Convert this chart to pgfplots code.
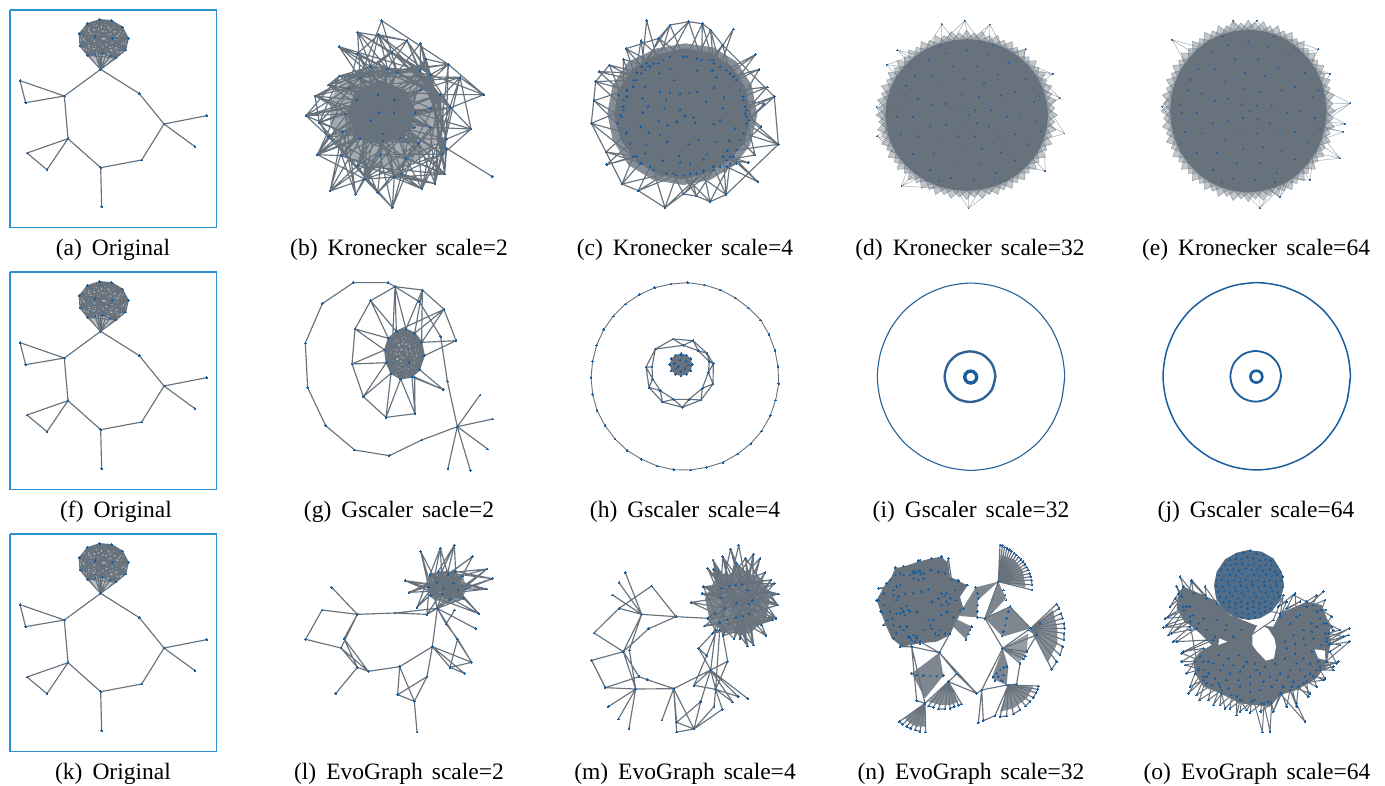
\documentclass[border=0pt]{standalone}
\usepackage{fontspec}
\setmainfont{Liberation Serif}
\usepackage{pgfplots}
\pgfplotsset{compat=1.18}
\definecolor{edgec}{HTML}{67727C}
\definecolor{nodec}{HTML}{1B5E9E}
\definecolor{framec}{HTML}{2B90D4}
\pgfplotsset{
 pan/.style 2 args={at={(#1pt,-#2pt)},anchor=north west,x=0.33333pt,y=0.33333pt,xmin=0,xmax=780,ymin=0,ymax=780,y dir=reverse,hide axis,clip=false},
 panc/.style n args={4}{at={(#1pt,-#2pt)},anchor=origin,x=#3pt,y=#4pt,xmin=-320,xmax=320,ymin=-320,ymax=320,y dir=reverse,hide axis,clip=false},
 ed/.style={color=edgec,line width=1.15pt,line join=round,mark=*,mark size=.7pt,mark options={fill=nodec,draw=nodec,line width=0pt}},
 dots/.style={only marks,color=nodec,mark=*,mark size=.75pt,mark options={fill=nodec,draw=nodec,line width=0pt}},
 tiny/.style={only marks,color=nodec,mark=*,mark size=.42pt,mark options={fill=nodec,draw=nodec,line width=0pt,opacity=.75}},
 blob/.style={fill=edgec,draw=none},
 semi/.style={fill=edgec,draw=none,fill opacity=#1},
 fr/.style={color=edgec,line width=.5pt,line join=round,opacity=.6,fill=edgec,fill opacity=.4},
}
\newcommand{\OrigG}{
\addplot[color=framec,line width=1.6pt] coordinates {(30,30)(650,30)(650,683)(30,683)(30,30)};
\addplot[semi=.45] coordinates {(299,59)(335,62)(367,81)(385,115)(377,150)(348,174)(302,200)(263,166)(240,138)(238,101)(262,71)};
\addplot[ed] coordinates {(302,208)(193,288)(60,242)(77,308)(193,288)(204,416)(81,459)(141,509)(204,416)(302,503)(305,620)(302,503)(425,480)(492,372)(620,347)(492,372)(585,440)(492,372)(418,281)(302,208)
(377,150)(302,208)(348,174)(302,208)(330,168)(302,208)(307,160)(302,208)(285,162)(302,208)(263,166)(302,208)(240,138)(302,208)(337,115)(302,208)(285,110)(302,208)(299,59)
(335,62)(367,81)(385,115)(377,150)(348,174)(307,160)(263,166)(240,138)(238,101)(262,71)(285,110)(337,115)(299,59)
(367,81)(377,150)(307,160)(240,138)(262,71)(337,115)(335,62)(385,115)(348,174)(263,166)(238,101)(285,110)(299,59)
(385,115)(307,160)(238,101)(337,115)(367,81)(348,174)(240,138)(285,110)(335,62)(377,150)(263,166)(262,71)(299,59)
(377,150)(240,138)(337,115)(385,115)(263,166)(285,110)(367,81)(307,160)(262,71)(335,62)(348,174)(238,101)(299,59)
(348,174)(262,71)(367,81)(263,166)(337,115)(377,150)(238,101)(335,62)(307,160)(285,110)(385,115)(240,138)(299,59)
(307,160)(337,115)(348,174)(285,110)(377,150)(262,71)(385,115)(238,101)(367,81)(240,138)(335,62)(263,166)(299,59)};
}
\newcommand{\FringeA}{
\addplot[fr] coordinates {(262,0)(234,20)(258,46)(227,61)(246,90)(213,99)(227,131)(192,135)(201,168)(166,166)(168,201)(135,192)(131,227)(99,213)(90,246)(61,227)(46,258)(20,234)(0,262)
(-20,234)(-46,258)(-61,227)(-90,246)(-99,213)(-131,227)(-135,192)(-168,201)(-166,166)(-201,168)(-192,135)(-227,131)(-213,99)(-246,90)(-227,61)(-258,46)(-234,20)(-262,0)
(-234,-20)(-258,-46)(-227,-61)(-246,-90)(-213,-99)(-227,-131)(-192,-135)(-201,-168)(-166,-166)(-168,-201)(-135,-192)(-131,-227)(-99,-213)(-90,-246)(-61,-227)(-46,-258)(-20,-234)(0,-262)
(20,-234)(46,-258)(61,-227)(90,-246)(99,-213)(131,-227)(135,-192)(168,-201)(166,-166)(201,-168)(192,-135)(227,-131)(213,-99)(246,-90)(227,-61)(258,-46)(234,-20)(262,0)};
\addplot[fr] coordinates {(235,0)(254,22)(231,41)(246,66)(221,80)(231,108)(204,118)(209,146)(180,151)(180,180)(151,180)(146,209)(118,204)(108,231)(80,221)(66,246)(41,231)(22,254)(0,235)
(-22,254)(-41,231)(-66,246)(-80,221)(-108,231)(-118,204)(-146,209)(-151,180)(-180,180)(-180,151)(-209,146)(-204,118)(-231,108)(-221,80)(-246,66)(-231,41)(-254,22)(-235,0)
(-254,-22)(-231,-41)(-246,-66)(-221,-80)(-231,-108)(-204,-118)(-209,-146)(-180,-151)(-180,-180)(-151,-180)(-146,-209)(-118,-204)(-108,-231)(-80,-221)(-66,-246)(-41,-231)(-22,-254)(0,-235)
(22,-254)(41,-231)(66,-246)(80,-221)(108,-231)(118,-204)(146,-209)(151,-180)(180,-180)(180,-151)(209,-146)(204,-118)(231,-108)(221,-80)(246,-66)(231,-41)(254,-22)(235,0)};
\addplot[blob] coordinates {(235,0)(231,41)(221,80)(204,118)(180,151)(151,180)(118,204)(80,221)(41,231)(0,235)(-41,231)(-80,221)(-118,204)(-151,180)(-180,151)(-204,118)(-221,80)(-231,41)(-235,0)(-231,-41)(-221,-80)(-204,-118)(-180,-151)(-151,-180)(-118,-204)(-80,-221)(-41,-231)(0,-235)(41,-231)(80,-221)(118,-204)(151,-180)(180,-151)(204,-118)(221,-80)(231,-41)};
\addplot[tiny] coordinates {(-180,-60)(-150,-120)(-110,-170)(-60,-190)(0,-200)(60,-185)(120,-160)(170,-110)(195,-40)(200,20)(180,90)(140,140)(85,180)(20,200)(-45,195)(-105,170)(-155,120)(-190,60)(-200,5)
(-140,-50)(-100,-120)(-40,-150)(30,-150)(90,-125)(140,-70)(155,0)(140,60)(100,115)(35,150)(-35,150)(-95,120)(-140,65)(-155,5)
(-100,-30)(-70,-85)(-10,-110)(50,-100)(100,-60)(115,5)(95,65)(45,105)(-15,110)(-70,85)(-105,35)
(-60,-35)(-15,-65)(35,-55)(70,-15)(65,35)(25,65)(-25,65)(-60,30)(-20,-20)(25,-15)(30,25)(-15,20)(5,0)(-205,-20)(-175,-90)(75,-215)(-75,-215)(210,-60)(215,50)(-80,205)(80,205)};
}
\newcommand{\RingO}[1]{\addplot[#1] coordinates {(281,0)(271,73)(243,141)(199,199)(141,243)(73,271)(0,281)(-73,271)(-141,243)(-199,199)(-243,141)(-271,73)(-281,0)(-271,-73)(-243,-141)(-199,-199)(-141,-243)(-73,-271)(0,-281)(73,-271)(141,-243)(199,-199)(243,-141)(271,-73)(281,0)(271,73)};}
\newcommand{\RingM}[1]{\addplot[#1] coordinates {(73,0)(63,38)(35,66)(-3,76)(-41,66)(-69,38)(-79,0)(-69,-38)(-41,-66)(-3,-76)(35,-66)(63,-38)(73,0)(63,38)};}
\newcommand{\RingI}[1]{\addplot[#1] coordinates {(17,1)(14.6,10)(8,16.6)(-1,19)(-10,16.6)(-16.6,10)(-19,1)(-16.6,-8)(-10,-14.6)(-1,-17)(8,-14.6)(14.6,-8)(17,1)(14.6,10)};}
\newcommand{\capt}[3]{\node[anchor=base] at (#1pt,-#2pt) {#3};}
\begin{document}
\begin{tikzpicture}[every node/.style={font=\fontsize{23.5}{26}\selectfont,inner sep=0pt}]
\path[use as bounding box] (0,0) rectangle (1385pt,-785pt);

% (a) (f) (k)
\begin{axis}[pan={0}{0}]\OrigG\end{axis}
\begin{axis}[pan={0}{262}]\OrigG\end{axis}
\begin{axis}[pan={0}{524}]\OrigG\end{axis}

% (b)
\begin{axis}[pan={280}{0}]
\addplot[semi=.6] coordinates {(190,235)(270,195)(350,205)(440,225)(485,300)(495,380)(450,460)(360,505)(270,505)(180,450)(150,370)(150,300)};
\addplot[blob] coordinates {(225,275)(300,240)(375,270)(410,340)(375,410)(300,435)(230,410)(200,345)};
\addplot[ed] coordinates {(305,62)(240,234)(305,62)(352,216)(305,62)(505,193)(611,284)(480,284)(611,284)(512,323)(611,284)(452,224)(611,284)(540,232)(573,387)(405,338)(573,387)(500,417)(573,387)(512,323)(573,387)(451,382)(573,387)(488,463)(500,445)(637,530)(500,445)(494,522)(378,476)(494,522)(488,463)(494,522)(415,430)(465,551)(343,530)(465,551)(451,382)(465,551)(500,417)(426,567)(365,522)(426,567)(378,476)(426,567)(415,430)(337,623)(254,537)(337,623)(343,530)(337,623)(300,463)(337,623)(378,476)(293,578)(232,497)(293,578)(343,530)(293,578)(309,423)(227,583)(185,467)(227,583)(254,537)(227,583)(300,463)(150,573)(232,497)(150,573)(254,537)(112,464)(188,395)(112,464)(241,416)(112,464)(185,467)(112,464)(145,410)(78,347)(195,342)(78,347)(188,395)(78,347)(230,300)(78,347)(145,410)(118,368)(241,416)(118,368)(105,288)(272,361)(105,288)(230,300)(105,288)(205,264)(145,255)(294,284)(145,255)(205,264)(145,255)(178,228)(240,234)(178,228)(272,200)(177,140)(272,200)(177,140)(240,234)(177,140)(323,207)(233,97)(240,234)(233,97)(272,200)(233,97)(336,158)(233,97)(381,122)(296,104)(233,160)(296,104)(272,200)(296,104)(352,216)(296,104)(323,207)(233,160)(294,284)(233,160)(205,264)(336,158)(420,212)(336,158)(272,200)(381,122)(323,207)(381,122)(420,212)(381,122)(452,224)(422,130)(352,216)(422,130)(420,212)(422,130)(452,224)(438,177)(343,299)(438,177)(420,212)(438,177)(505,193)(452,224)(505,193)(422,270)(540,232)(422,270)(540,232)(452,325)(480,284)
(272,200)(451,382)(205,264)(415,430)(240,234)(405,338)(230,300)(403,383)(195,342)(422,270)(188,395)(452,325)(241,416)(352,216)(185,467)(343,299)(232,497)(294,284)(300,463)(323,207)(378,476)(272,200)(343,530)(240,234)(254,537)(420,212)(365,522)(205,264)(488,463)(230,300)(451,382)(195,342)(415,430)(188,395)(362,414)(294,284)(309,423)(452,224)(241,416)(422,270)(272,361)(512,323)(298,338)(480,284)(342,337)(145,410)(310,402)(105,288)(403,383)(178,228)(451,382)(145,255)(415,430)(233,160)(362,414)(177,140)(405,338)(112,464)(343,299)(78,347)(422,270)(118,368)(452,224)(145,410)(420,212)(185,467)(352,216)(232,497)(323,207)(254,537)(272,200)(343,530)(294,284)(365,522)(230,300)(494,522)(241,416)(500,417)(195,342)(512,323)(188,395)(480,284)(205,264)(540,232)(178,228)(505,193)(240,234)(452,325)(272,361)(405,338)(298,338)(451,382)(342,337)(403,383)(310,402)(415,430)(309,423)(378,476)(300,463)(488,463)
(205,264)(352,216)(240,234)(420,212)(272,200)(452,224)(323,207)(480,284)(352,216)(512,323)(420,212)(500,417)(452,224)(488,463)(480,284)(465,551)(512,323)(378,476)(500,417)(343,530)(488,463)(254,537)(494,522)(232,497)(465,551)(185,467)(426,567)(145,410)(337,623)(118,368)(293,578)(195,342)(227,583)(188,395)(150,573)(230,300)(112,464)(205,264)(78,347)(178,228)(118,368)(240,234)(105,288)(272,200)(145,255)(323,207)(178,228)(352,216)(177,140)(420,212)(233,97)(452,224)(296,104)(480,284)(336,158)(512,323)(381,122)(500,417)(422,130)(488,463)(438,177)(494,522)(505,193)(465,551)(540,232)(426,567)(480,284)(378,476)(451,382)(343,530)(415,430)(254,537)(362,414)(232,497)(310,402)(185,467)(272,361)(112,464)(241,416)(150,573)(188,395)(227,583)};
\end{axis}

% (c)
\begin{axis}[pan={570}{0}]
\addplot[semi=.8] coordinates {(345,130)(430,142)(500,185)(545,255)(562,345)(540,435)(495,495)(420,540)(340,555)(250,540)(175,495)(128,420)(112,340)(128,255)(175,185)(260,145)};
\addplot[blob] coordinates {(345,145)(425,158)(485,200)(525,260)(545,345)(525,425)(475,485)(405,522)(335,538)(260,522)(195,480)(150,415)(132,345)(145,270)(190,205)(265,162)};
\addplot[ed] coordinates {(230,62)(265,190)(230,62)(215,200)(300,75)(265,190)(300,75)(340,170)(266,115)(300,170)(266,115)(230,190)(356,65)(300,170)(356,65)(395,180)(397,71)(350,170)(397,71)(430,190)(422,90)(380,175)(422,90)(450,200)(490,87)(430,180)(458,135)(420,180)(458,135)(480,220)(556,164)(470,210)(556,164)(500,240)(567,208)(490,230)(567,208)(520,290)(592,261)(510,270)(592,261)(530,330)(613,290)(525,320)(613,290)(535,360)(582,312)(520,300)(582,312)(530,370)(625,433)(520,400)(625,433)(530,350)(625,433)(500,450)(573,380)(525,340)(555,465)(510,420)(555,465)(470,480)(535,488)(480,470)(563,545)(490,470)(563,545)(470,500)(500,490)(460,470)(468,584)(430,500)(468,584)(380,520)(468,584)(480,490)(420,605)(400,510)(420,605)(340,525)(379,588)(360,520)(379,588)(430,510)(340,582)(310,520)(340,582)(400,515)(285,623)(250,510)(285,623)(320,525)(205,572)(240,500)(205,572)(290,520)(156,552)(210,490)(156,552)(190,470)(110,494)(180,430)(110,494)(200,470)(108,456)(170,400)(108,456)(215,490)(64,370)(160,330)(64,370)(170,400)(72,302)(155,350)(72,302)(170,270)(77,245)(160,320)(77,245)(190,240)(87,215)(170,290)(87,215)(215,220)(118,195)(200,240)(118,195)(160,300)(160,178)(240,200)(160,178)(190,260)(213,122)(280,180)(213,122)(225,210)(168,146)(250,190)(168,146)(200,240)(168,146)(266,115)(300,75)(356,65)(397,71)(422,90)(458,135)
(613,290)(625,433)(468,584)(420,605)(379,588)(340,582)(285,623)(205,572)(156,552)(108,456)(64,370)(77,245)(118,195)};
\addplot[dots] coordinates {(270,275)(300,277)(330,280)(357,279)(381,275)(288,298)(234,320)(218,295)(283,325)(330,328)(370,352)(344,347)(266,363)(218,338)(150,345)(375,368)(320,365)(293,376)(212,380)(236,398)(170,397)(270,405)(292,425)(356,432)(385,420)(228,435)(226,460)(278,482)(327,467)(411,462)(330,488)(360,490)(400,478)(450,500)(313,240)(269,220)(300,207)(235,198)(383,211)(427,212)(440,232)(432,262)(462,292)(408,305)(458,325)(450,362)(430,372)(495,385)(437,426)(478,422)(472,452)(200,218)(225,260)(171,272)(145,285)(152,345)(143,370)};
\end{axis}

% (d)
\begin{axis}[panc={966.7}{115}{0.3467}{0.3233}]
\addplot[color=edgec,line width=.5pt,line join=round,opacity=.6] coordinates {(-110,-215)(-72,-281)(-30,-225)(-72,-281)(-72,-225)(-5,-292)(-40,-225)(-5,-292)(40,-225)(-5,-292)(5,-225)(67,-280)(30,-225)(67,-280)(100,-210)(67,-280)(65,-225)
(-170,-165)(-200,-201)(-140,-185)(-200,-201)(-165,-180)(-231,-155)(-180,-150)(-231,-155)(-200,-120)(170,-204)(130,-190)(170,-204)(160,-165)(248,-127)(190,-140)(248,-127)(215,-100)(248,-127)(205,-120)
(269,-52)(225,-75)(269,-52)(230,-30)(282,57)(230,30)(282,57)(225,75)(226,173)(170,160)(226,173)(190,135)(5,289)(-30,230)(5,289)(40,228)(5,289)(5,230)(-188,220)(-170,165)(-188,220)(-130,190)(-188,220)(-150,180)
(-258,65)(-220,40)(-258,65)(-215,90)(-260,-24)(-225,-60)(-260,-24)(-230,10)(-260,-24)(-225,-20)};
\FringeA
\addplot[tiny] coordinates {(-72,-281)(-5,-292)(67,-280)(-200,-201)(-231,-155)(170,-204)(248,-127)(269,-52)(282,57)(226,173)(5,289)(-188,220)(-258,65)(-260,-24)};
\end{axis}

% (e)
\begin{axis}[panc={1248.3}{111}{0.3333}{0.3467}]
\addplot[color=edgec,line width=.5pt,line join=round,opacity=.6] coordinates {(-228,-205)(-170,-170)(-228,-205)(-190,-140)(-228,-205)(-150,-185)(-258,-12)(-225,-50)(-258,-12)(-228,30)(-258,-12)(-230,-10)(306,-22)(230,-60)(306,-22)(232,10)(306,-22)(232,30)(290,37)(232,5)(290,37)(230,50)(285,60)(225,45)(285,60)(228,80)(275,136)(215,95)(275,136)(190,145)(275,136)(200,120)
(35,280)(-15,232)(35,280)(70,225)(35,280)(35,232)(-45,-260)(-75,-222)(-45,-260)(-15,-232)(25,-260)(-5,-232)(25,-260)(55,-228)(210,-178)(160,-170)(210,-178)(185,-130)(245,-107)(200,-110)(245,-107)(225,-70)(185,199)(125,195)(185,199)(160,165)(95,247)(60,225)(95,247)(110,205)};
\FringeA
\addplot[tiny] coordinates {(-228,-205)(-258,-12)(306,-22)(290,37)(285,60)(275,136)(35,280)(-45,-260)(25,-260)(210,-178)(245,-107)(185,199)(95,247)};
\end{axis}

% (g)
\begin{axis}[pan={280}{265}]
\addplot[semi=.5] coordinates {(373,192)(404,200)(425,225)(433,272)(419,314)(396,336)(362,342)(333,325)(316,285)(314,255)(325,220)(349,197)};
\addplot[ed] coordinates {(345,65)(324,53)(220,53)(127,116)(76,234)(83,368)(137,482)(224,555)(328,572)(425,525)(532,485)(600,390)(532,485)(638,462)(532,485)(623,552)(532,485)(571,616)(532,485)(504,610)(532,485)(502,348)(482,215)(418,110)(345,65)(427,75)(492,133)(528,227)(433,272)(528,227)(425,232)(492,133)(404,205)(427,75)(378,192)(345,65)(349,199)(272,107)(345,65)(272,107)(325,220)(225,192)(272,107)(225,192)(314,255)(216,297)(225,192)(216,297)(319,293)(250,395)(216,297)(250,395)(333,325)(318,457)(250,395)(318,457)(362,342)(405,446)(318,457)(405,446)(396,336)(405,446)(404,336)(490,374)(419,314)(490,374)(396,336)(405,446)(362,342)(318,457)(333,325)(345,65)(378,192)(427,75)(425,232)(492,133)
(349,199)(378,192)(404,205)(425,232)(433,272)(419,314)(396,336)(362,342)(333,325)(319,293)(314,255)(325,220)(387,292)(349,199)
(404,205)(433,272)(396,336)(333,325)(314,255)(387,292)(378,192)(425,232)(419,314)(362,342)(319,293)(325,220)(349,199)
(425,232)(396,336)(319,293)(387,292)(404,205)(419,314)(333,325)(325,220)(378,192)(433,272)(362,342)(314,255)(349,199)
(433,272)(333,325)(387,292)(425,232)(362,342)(325,220)(404,205)(396,336)(314,255)(378,192)(419,314)(319,293)(349,199)
(419,314)(314,255)(404,205)(362,342)(387,292)(433,272)(319,293)(378,192)(396,336)(325,220)(425,232)(333,325)(349,199)
(396,336)(387,292)(419,314)(325,220)(433,272)(314,255)(425,232)(319,293)(404,205)(333,325)(378,192)(362,342)(349,199)};
\end{axis}

% (h)
\begin{axis}[pan={570}{265}]
\addplot[ed,line width=.9pt] coordinates {(353,53)(404,60)(452,75)(497,99)(536,129)(572,165)(597,208)(615,257)(624,305)(626,356)(617,405)(601,452)(575,498)(543,535)(503,567)(459,592)(410,607)(361,615)(311,614)(262,603)(215,583)(171,556)(135,522)(105,482)(81,436)(68,388)(63,338)(68,288)(80,240)(101,194)(130,153)(166,117)(208,89)(254,68)(303,57)(353,53)};
\addplot[ed] coordinates {(309,222)(369,227)(411,265)(430,296)(429,357)(393,405)(337,427)(277,411)(237,367)(228,306)(256,252)(309,222)
(340,241)(385,257)(418,290)(415,322)(397,370)(357,403)(311,403)(271,377)(248,342)(246,306)(256,252)(340,241)
(369,227)(385,257)(411,265)(418,290)(430,296)(415,322)(429,357)(397,370)(393,405)(357,403)(337,427)(311,403)(277,411)(271,377)(237,367)(248,342)(228,306)(246,306)(256,252)};
\addplot[blob] coordinates {(367,299)(362,317)(350,328)(333,333)(316,328)(304,317)(299,299)(304,281)(316,270)(333,265)(350,270)(362,281)};
\addplot[dots] coordinates {(367,299)(362,317)(350,328)(333,333)(316,328)(304,317)(299,299)(304,281)(316,270)(333,265)(350,270)(362,281)(313,296)(330,285)(348,290)(325,305)(345,310)(333,320)(318,312)(355,300)(335,272)};
\end{axis}

% (i)
\begin{axis}[panc={971}{376.7}{0.33333}{0.33333}]
\RingO{color=nodec!85!edgec,line width=1.1pt,smooth}
\RingM{color=nodec!75!edgec,line width=2.4pt,smooth}
\RingI{color=nodec,line width=3.4pt,smooth}
\end{axis}
% (j)
\begin{axis}[panc={1256.7}{376.3}{0.33333}{0.33333}]
\RingO{color=nodec,line width=1.5pt,smooth}
\RingM{color=nodec,line width=1.8pt,smooth}
\RingI{color=nodec,line width=2.6pt,smooth}
\end{axis}

% (l)
\begin{axis}[pan={280}{530}]
\addplot[semi=.75] coordinates {(450,130)(500,122)(548,135)(560,175)(545,210)(500,222)(455,205)(442,170)};
\addplot[ed] coordinates {(472,235)(457,350)(441,440)(403,514)(411,606)(403,514)(353,494)(359,410)(403,514)(353,494)(441,440)(457,350)(359,410)(265,424)(232,412)(167,491)(232,412)(183,354)(77,328)(126,240)(232,253)(155,172)(232,253)(192,326)(232,412)(192,326)(265,424)(183,354)(232,253)(345,249)(441,253)(472,235)(345,249)(472,235)(457,350)(510,412)(533,327)(498,282)(472,235)(587,296)(472,235)(498,282)(524,240)(498,282)(533,327)(575,397)(457,350)(553,430)(510,412)(575,397)
(472,235)(422,64)(470,157)(422,64)(452,197)(481,54)(450,134)(481,54)(504,134)(481,54)(488,192)(523,45)(474,125)(523,45)(527,124)(523,45)(470,157)(577,80)(504,134)(577,80)(547,139)(577,80)(510,209)(621,117)(470,157)(621,117)(450,134)(621,117)(534,180)(637,146)(474,125)(637,146)(527,124)(637,146)(558,177)(620,177)(450,134)(620,177)(520,160)(620,177)(488,192)(596,251)(534,180)(596,251)(452,197)(596,251)(551,205)(472,235)(547,139)(472,235)(558,177)(472,235)(504,134)(472,235)(450,134)(411,232)(527,124)(411,232)(470,157)(387,187)(547,139)(387,187)(504,134)(387,187)(534,180)(375,152)(551,205)(375,152)(510,209)(375,152)(558,177)(441,253)(450,134)(441,253)(527,124)
(450,134)(558,177)(445,173)(547,139)(452,197)(527,124)(488,192)(474,125)(510,209)(450,134)(534,180)(470,157)(551,205)(474,125)(558,177)(504,134)(452,197)(520,160)(445,173)(490,175)(547,139)(470,157)(527,124)(445,173)(510,209)(504,134)(488,192)(558,177)(470,157)(520,160)(474,125)(534,180)(452,197)(551,205)(490,175)(504,134)(445,173)(534,180)(450,134)(551,205)(527,124)(510,209)(547,139)(488,192)(520,160)(450,134)};
\end{axis}

% (m)
\begin{axis}[pan={570}{530}]
\addplot[semi=.85] coordinates {(505,120)(565,140)(600,200)(590,265)(540,310)(470,310)(420,275)(405,205)(435,150)};
\addplot[ed] coordinates {(414,265)(318,260)(245,168)(147,235)(72,309)(160,365)(65,391)(106,473)(197,477)(115,530)(197,477)(145,567)(197,477)(177,595)(197,477)(311,476)(276,570)(311,476)(320,577)(372,597)(320,606)(311,476)(372,597)(392,515)(320,577)(392,515)(422,420)(311,476)(232,449)(207,440)(106,473)(207,440)(160,365)(197,477)(178,360)(215,253)(160,365)(236,296)(318,260)(215,253)(166,128)(215,253)(147,158)(215,253)(128,195)(215,253)(147,235)
(215,253)(318,260)(414,265)(437,300)(422,420)(372,466)(437,478)(422,420)(386,355)(428,310)(386,355)(410,377)(449,278)(410,377)(372,466)(437,478)(432,530)(372,597)(457,538)(437,478)(422,420)(488,516)(422,420)(533,506)(422,420)(505,500)(437,478)(488,516)(422,420)(473,394)(459,317)(473,394)(437,478)(449,300)
(506,45)(478,168)(506,45)(533,180)(482,57)(455,175)(482,57)(517,163)(458,80)(497,165)(458,80)(452,204)(429,90)(478,168)(429,90)(465,235)(413,115)(455,175)(413,115)(500,220)(430,118)(517,163)(430,118)(452,204)(500,100)(465,235)(500,100)(535,222)(527,85)(455,175)(527,85)(547,212)(550,73)(478,168)(550,73)(533,180)(570,85)(497,165)(570,85)(535,222)(585,128)(455,175)(585,128)(547,212)(603,150)(478,168)(603,150)(537,252)(613,160)(500,220)(613,160)(517,163)(625,192)(465,235)(625,192)(533,180)(623,225)(455,175)(623,225)(519,258)(618,265)(500,220)(618,265)(497,165)(608,270)(452,204)(608,270)(547,212)(588,317)(533,180)(588,317)(498,262)(575,285)(465,235)(575,285)(537,252)(551,345)(535,222)(551,345)(471,268)(533,348)(500,220)(533,348)(519,258)(510,325)(478,168)(510,325)(547,212)(492,327)(533,180)(492,327)(449,278)(459,317)(517,163)(459,317)(465,235)(428,310)(497,165)(428,310)(537,252)(404,288)(533,180)(404,288)(465,235)(363,217)(452,204)(363,217)(435,250)(400,170)(500,220)(400,170)(547,212)(396,190)(535,222)(396,190)(465,235)(412,265)(517,163)(412,265)(537,252)(400,170)(603,150)(400,170)(625,192)(396,190)(623,225)(404,288)(618,265)(428,310)(608,270)(459,317)(585,128)(492,327)(550,73)(510,325)(458,80)(533,348)(429,90)(551,345)(482,57)(588,317)(413,115)(575,285)(430,118)(618,265)(500,100)(623,225)(527,85)};
\end{axis}

% (n)
\begin{axis}[pan={860}{530}]
\addplot[blob] coordinates {(105,115)(130,110)(175,95)(215,85)(245,80)(265,100)(270,140)(320,165)(300,200)(310,235)(285,280)(270,315)(230,335)(180,340)(125,350)(95,325)(75,280)(60,240)(50,210)(75,165)(95,140)};
\addplot[semi=.85] coordinates {(305,240)(347,172)(415,155)(354,210)(352,262)(298,258)};
\addplot[semi=.85] coordinates {(375,265)(450,230)(512,295)(428,320)};
\addplot[semi=.85] coordinates {(415,155)(438,205)(385,262)(375,262)};
\addplot[semi=.85] coordinates {(238,368)(155,430)(195,505)(250,437)};
\addplot[semi=.85] coordinates {(428,355)(395,445)(440,465)(445,410)};
\addplot[semi=.85] coordinates {(285,265)(335,290)(318,328)(280,290)};
\addplot[semi=.8] coordinates {(415,155)(425,75)(462,88)(488,122)(497,172)};
\addplot[semi=.8] coordinates {(512,295)(578,240)(592,295)(592,340)(565,395)};
\addplot[semi=.8] coordinates {(445,465)(520,470)(500,505)(460,535)(420,545)};
\addplot[semi=.8] coordinates {(265,455)(205,515)(240,525)(270,525)(295,515)};
\addplot[semi=.8] coordinates {(195,520)(135,565)(150,580)(170,590)(195,590)};
\addplot[semi=.7] coordinates {(428,355)(505,310)(500,365)(480,395)};
\addplot[ed] coordinates {(415,155)(420,45)(427,47)(415,155)(434,51)(441,55)(415,155)(448,59)(455,64)(415,155)(462,69)(469,75)(415,155)(476,81)(483,88)(415,155)(489,95)(495,103)(415,155)(500,111)(505,120)(415,155)(509,130)(512,140)(415,155)(514,150)(516,165)(415,155)(516,180)
(415,155)(375,265)(428,355)(375,265)(352,262)(375,265)(450,230)
(512,295)(590,222)(597,235)(512,295)(603,250)(608,265)(512,295)(612,280)(613,295)(512,295)(612,310)(612,330)(512,295)(608,350)(600,375)(512,295)(590,395)(575,418)(512,295)(540,280)(530,315)(428,355)(505,300)(530,315)(500,365)(428,355)(497,378)(490,387)(428,355)(480,400)(470,462)(445,465)(535,468)(533,478)(445,465)(528,488)(520,503)(445,465)(510,515)(497,528)(445,465)(480,540)(460,552)(445,465)(440,558)(420,560)(445,465)(405,557)(370,572)(365,480)(355,578)(365,480)(428,355)(365,480)(440,465)(365,480)(350,490)(265,455)(290,432)(238,368)(290,432)(350,490)(238,368)(180,335)(238,368)(270,310)(238,368)(155,350)
(195,520)(265,455)(305,522)(295,526)(265,455)(283,530)(270,535)(265,455)(255,537)(235,537)(265,455)(220,532)(205,528)(265,455)(195,520)(118,575)(128,583)(195,520)(140,590)(152,596)(195,520)(165,600)(180,604)(195,520)(197,606)(195,520)(170,512)
(155,350)(120,350)(170,320)(100,325)(140,290)(70,285)(110,250)(62,245)(110,210)(50,212)(100,180)(55,175)(120,165)(80,160)(130,135)(105,112)(160,130)(130,108)(180,125)(175,92)(215,120)(215,85)(235,125)(245,78)(255,130)(265,85)(275,150)(295,150)(285,180)(322,165)(290,210)(310,235)};
\addplot[dots] coordinates {(347,172)(352,190)(356,205)(353,225)(352,245)(450,230)(445,245)(440,265)(435,285)(430,305)(426,318)(155,430)(170,435)(190,437)(210,438)(230,438)(250,437)(335,290)(330,300)(325,312)(318,328)(430,180)(435,195)(438,210)(400,440)(410,430)(420,420)(430,412)(440,410)(415,440)(430,435)(405,452)(425,452)(440,465)
(160,125)(175,120)(190,130)(190,145)(175,150)(160,145)(245,190)(260,190)(272,205)(265,222)(245,225)(235,205)(125,235)(140,228)(150,245)(135,255)(122,250)(90,245)(98,265)(100,285)(115,200)(135,190)(160,190)(185,185)(205,178)(220,270)(210,285)(225,310)(245,255)(262,245)(280,262)(240,300)(255,310)(145,320)(160,315)(170,325)(155,330)(120,290)(130,300)(110,170)(100,195)(80,160)(55,210)(65,245)(100,325)(125,345)(180,340)(180,90)(215,85)(245,80)(265,85)(295,155)(320,165)(300,240)(210,120)(120,130)(215,215)(170,245)(190,300)
(168,128)(182,132)(150,135)(252,198)(258,215)(130,245)(145,240)(205,270)(215,295)(235,315)(150,322)(165,335)(105,135)(90,150)(72,190)(70,225)(82,270)(110,310)};
\end{axis}

% (o)
\begin{axis}[pan={1140}{530}]
\addplot[blob] coordinates {(115,190)(130,170)(190,195)(230,215)(270,255)(345,285)(400,290)(420,250)(500,215)(545,225)(570,290)(572,340)(560,400)(530,445)(470,480)(420,495)(390,530)(300,520)(240,490)(190,470)(165,430)(160,390)(180,365)(215,345)(180,310)(130,270)(110,235)};
\addplot[fill=white,draw=none] coordinates {(355,280)(385,297)(403,325)(408,350)(402,385)(378,392)(352,365)(337,345)(337,315)};
\addplot[fill=white,draw=none] coordinates {(524,358)(555,362)(556,390)(535,385)};
\addplot[fill=white,draw=none] coordinates {(238,325)(262,335)(235,345)};
\addplot[ed,line width=1pt] coordinates {(120,140)(150,230)(110,170)(135,240)(155,150)(195,195)(105,205)(150,260)(75,265)(130,240)(85,315)(150,275)(70,292)(150,290)(100,335)(220,330)(125,370)(190,395)(135,405)(190,420)(145,490)(200,440)(178,510)(240,470)(220,525)(245,490)(255,535)(290,500)(290,555)(300,510)(320,540)(340,510)(367,606)(372,520)(390,605)(395,520)(400,545)(420,490)(495,575)(450,480)(470,530)(455,470)(510,490)(490,460)(550,450)(510,430)(580,410)(530,420)(595,395)(540,410)(628,335)(565,345)(625,315)(560,335)(628,295)(560,325)(580,300)(550,280)(575,290)(540,240)(558,240)(500,230)(550,185)(470,260)(465,190)(415,230)(440,215)(420,260)(430,195)(400,270)
(165,430)(150,470)(190,450)(170,495)(215,465)(205,510)(245,480)(240,525)(275,495)(270,535)(305,510)(300,545)(335,515)(330,548)(365,520)(362,545)(395,520)(400,545)(425,490)(440,530)(450,480)(470,520)(475,470)(505,500)(500,455)(530,470)(520,440)(555,445)(540,420)(580,420)(560,395)(590,400)
(570,365)(600,345)(570,340)(610,320)(565,310)(600,300)(560,280)(575,260)(545,240)(555,210)(520,225)(530,195)(500,215)(460,195)(440,235)(480,215)(420,250)
(115,190)(90,230)(125,200)(85,260)(130,230)(80,285)(150,260)(95,310)(170,295)(110,335)(200,330)(130,365)(190,355)(125,395)(165,395)(140,430)(175,420)
(130,170)(120,140)(160,190)(155,155)(200,205)(195,170)(230,220)};
\addplot[fill=edgec!70!nodec,draw=none] coordinates {(325,60)(365,65)(400,85)(425,125)(432,165)(422,210)(395,245)(360,265)(325,270)(285,262)(250,240)(228,205)(222,165)(230,125)(255,88)(290,68)};
\addplot[dots] coordinates {(290,72)(310,68)(330,62)(350,70)(370,75)(270,88)(288,85)(305,88)(322,82)(340,85)(358,90)(376,88)(392,92)(255,103)(272,105)(290,102)(308,100)(325,105)(342,102)(360,108)(378,104)(395,106)(410,108)(243,118)(262,120)(280,118)(298,122)(316,116)(335,120)(352,118)(370,122)(388,118)(405,124)(420,126)(235,135)(252,138)(270,133)(288,137)(306,132)(324,138)(342,134)(360,138)(378,133)(396,138)(412,134)(428,140)(228,152)(246,150)(264,155)(282,150)(300,154)(318,149)(336,155)(354,150)(372,155)(390,150)(408,155)(425,152)(230,168)(248,170)(266,165)(284,171)(302,166)(320,172)(338,166)(356,172)(374,167)(392,172)(410,167)(428,172)(235,185)(252,183)(270,188)(288,182)(306,188)(324,183)(342,189)(360,183)(378,188)(396,183)(414,188)(240,200)(258,203)(276,198)(294,204)(312,198)(330,204)(348,199)(366,204)(384,199)(402,204)(418,200)(250,217)(268,215)(286,220)(304,214)(322,220)(340,215)(358,220)(376,215)(394,220)(268,232)(286,235)(304,230)(322,236)(340,231)(358,236)(376,231)(390,235)(290,250)(308,247)(326,252)(344,247)(362,250)(375,245)(325,265)(345,262)(305,262)
(140,230)(160,255)(175,280)(200,300)(225,320)(255,300)(280,320)(305,300)(150,300)(190,265)(230,270)(260,285)(180,380)(205,395)(235,375)(265,385)(295,375)(320,395)(345,400)(375,410)(405,400)(435,385)(465,370)(495,345)(520,325)(435,335)(460,315)(490,300)(515,280)(540,265)(450,280)(480,255)(530,245)(175,415)(205,430)(240,420)(270,430)(300,425)(330,440)(360,430)(390,440)(420,430)(450,420)(480,420)(510,400)(535,395)(200,460)(235,460)(265,475)(300,470)(330,485)(360,480)(395,470)(430,470)(460,455)(495,440)(530,420)(545,345)(555,310)(300,510)(345,510)(385,515)
(220,400)(250,405)(280,405)(310,410)(350,420)(190,440)(225,445)(260,450)(295,450)(330,460)(370,455)(410,450)(445,440)(470,400)(490,385)(515,365)(440,355)(465,340)(490,325)(515,305)(530,290)};
\end{axis}

% captions
\capt{113}{255}{(a)\hspace{10pt}Original}
\capt{399}{255}{(b)\hspace{10pt}Kronecker\hspace{9pt}scale=2}
\capt{685}{255}{(c)\hspace{10pt}Kronecker\hspace{9pt}scale=4}
\capt{970}{255}{(d)\hspace{10pt}Kronecker\hspace{9pt}scale=32}
\capt{1256}{255}{(e)\hspace{10pt}Kronecker\hspace{9pt}scale=64}
\capt{116}{517}{(f)\hspace{10pt}Original}
\capt{399}{517}{(g)\hspace{10pt}Gscaler\hspace{9pt}sacle=2}
\capt{685}{517}{(h)\hspace{10pt}Gscaler\hspace{9pt}scale=4}
\capt{971}{517}{(i)\hspace{10pt}Gscaler\hspace{9pt}scale=32}
\capt{1256}{517}{(j)\hspace{10pt}Gscaler\hspace{9pt}scale=64}
\capt{113}{779.3}{(k)\hspace{10pt}Original}
\capt{399}{779.3}{(l)\hspace{10pt}EvoGraph\hspace{9pt}scale=2}
\capt{685}{779.3}{(m)\hspace{10pt}EvoGraph\hspace{9pt}scale=4}
\capt{971}{779.3}{(n)\hspace{10pt}EvoGraph\hspace{9pt}scale=32}
\capt{1257}{779.3}{(o)\hspace{10pt}EvoGraph\hspace{9pt}scale=64}
\end{tikzpicture}
\end{document}
